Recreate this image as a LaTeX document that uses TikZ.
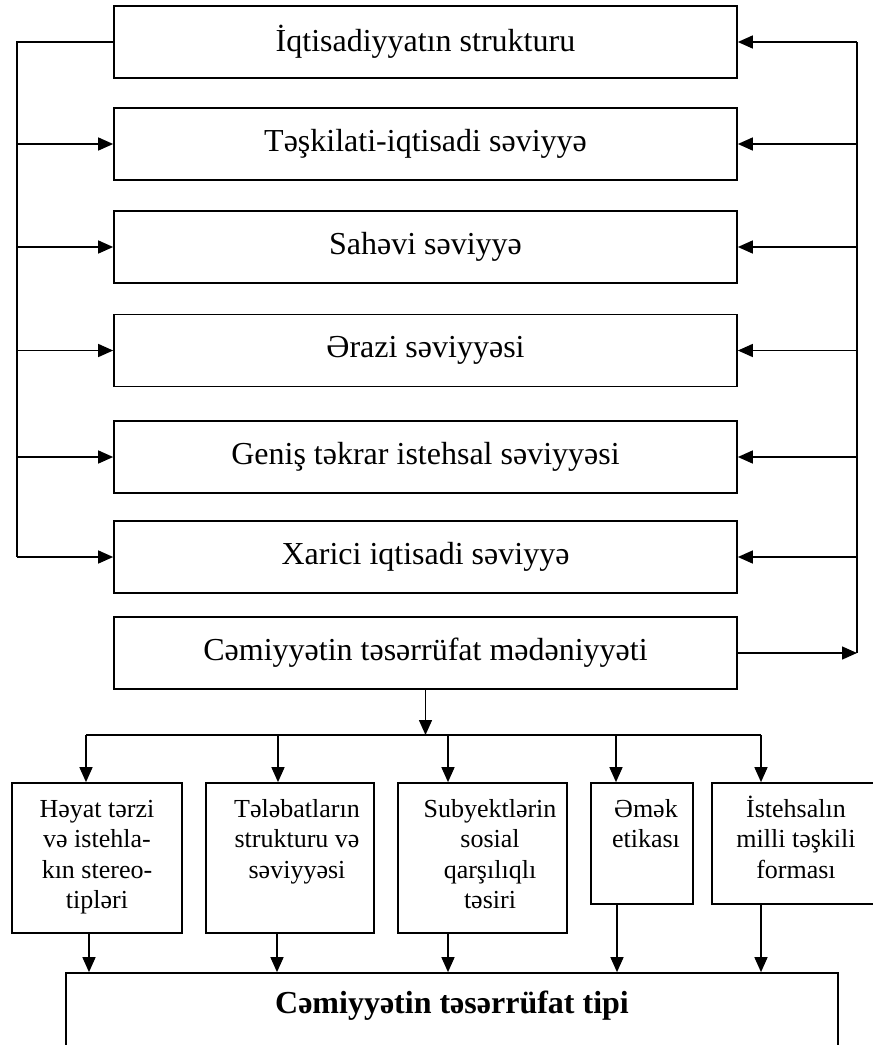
\documentclass[tikz,border=0pt]{standalone}
\usepackage{fontspec}
\setmainfont{Liberation Serif}
\usetikzlibrary{arrows.meta}
\begin{document}
\begin{tikzpicture}[x=1pt,y=-1pt,
  bigbox/.style={draw, line width=1.7pt, minimum width=623pt, minimum height=72pt, inner sep=0pt, font=\fontsize{32}{38}\selectfont},
  smallbox/.style={draw, line width=1.7pt, inner sep=0pt},
  stext/.style={anchor=base, inner sep=0pt, font=\fontsize{26}{30.5}\selectfont},
  arr/.style={line width=1.5pt, -{Triangle[length=15pt,width=13pt]}},
  ln/.style={line width=1.5pt},
]
\useasboundingbox (0,0) rectangle (873,1045);

% main column
\node[bigbox] (b1) at (425.5,42)  {İqtisadiyyatın strukturu};
\node[bigbox] (b2) at (425.5,144) {Təşkilati-iqtisadi səviyyə};
\node[bigbox] (b3) at (425.5,247) {Sahəvi səviyyə};
\node[bigbox] (b4) at (425.5,350.5) {Ərazi səviyyəsi};
\node[bigbox] (b5) at (425.5,457) {Geniş təkrar istehsal səviyyəsi};
\node[bigbox] (b6) at (425.5,557) {Xarici iqtisadi səviyyə};
\node[bigbox] (b7) at (425.5,653) {Cəmiyyətin təsərrüfat mədəniyyəti};

% left bus
\coordinate (L1) at (17,42);
\coordinate (L6) at (17,557);
\draw[ln] (b1.west) -- (L1) -- (L6);
\foreach \b in {b2,b3,b4,b5,b6}
  \draw[arr] (L1 |- \b.west) -- (\b.west);

% right bus
\coordinate (R1) at (857,42);
\coordinate (R7) at (857,653);
\draw[ln] (R1) -- (R7);
\foreach \b in {b1,b2,b3,b4,b5,b6}
  \draw[arr] (R1 |- \b.east) -- (\b.east);
\draw[arr] (b7.east) -- (R7);

% distribution line
\coordinate (HA) at (86,735);
\coordinate (HB) at (278,735);
\coordinate (HC) at (448,735);
\coordinate (HD) at (616,735);
\coordinate (HE) at (761,735);
\draw[arr] (b7.south) -- (b7.south |- HA);
\draw[ln] (HA) -- (HE);

% small boxes
\node[smallbox, minimum width=170pt, minimum height=150pt] (A) at (97,858) {};
\node[smallbox, minimum width=168pt, minimum height=150pt] (B) at (290,858) {};
\node[smallbox, minimum width=169pt, minimum height=150pt] (C) at (482.5,858) {};
\node[smallbox, minimum width=102pt, minimum height=121pt] (D) at (642,843.5) {};
\node[smallbox, minimum width=163pt, minimum height=121pt] (E) at (793.5,843.5) {};

\node[stext] (At) at (97,817) {\parbox[t]{170pt}{\centering Həyat tərzi\\və istehla-\\kın stereo-\\tipləri}};
\node[stext] (Bt) at (297,817) {\parbox[t]{170pt}{\centering Tələbatların\\strukturu və\\səviyyəsi}};
\node[stext] (Ct) at (490,817) {\parbox[t]{170pt}{\centering Subyektlərin\\sosial\\qarşılıqlı\\təsiri}};
\node[stext] (Dt) at (646,817) {\parbox[t]{120pt}{\centering Əmək\\etikası}};
\node[stext] (Et) at (796,817) {\parbox[t]{170pt}{\centering İstehsalın\\milli təşkili\\forması}};

\draw[arr] (HA) -- (HA |- A.north);
\draw[arr] (HB) -- (HB |- B.north);
\draw[arr] (HC) -- (HC |- C.north);
\draw[arr] (HD) -- (HD |- D.north);
\draw[arr] (HE) -- (HE |- E.north);

% bottom box
\node[smallbox, minimum width=772pt, minimum height=127pt] (T) at (452,1036.5) {};
\node[anchor=base, inner sep=0pt, font=\fontsize{32}{38}\selectfont\bfseries] (Tt) at (452,1013) {Cəmiyyətin təsərrüfat tipi};

\draw[arr] ([xshift=-8pt]A.south) -- ([xshift=-8pt]A.south |- T.north);
\draw[arr] ([xshift=-13pt]B.south) -- ([xshift=-13pt]B.south |- T.north);
\draw[arr] ([xshift=-34.5pt]C.south) -- ([xshift=-34.5pt]C.south |- T.north);
\draw[arr] ([xshift=-25pt]D.south) -- ([xshift=-25pt]D.south |- T.north);
\draw[arr] ([xshift=-32.5pt]E.south) -- ([xshift=-32.5pt]E.south |- T.north);
\end{tikzpicture}
\end{document}
